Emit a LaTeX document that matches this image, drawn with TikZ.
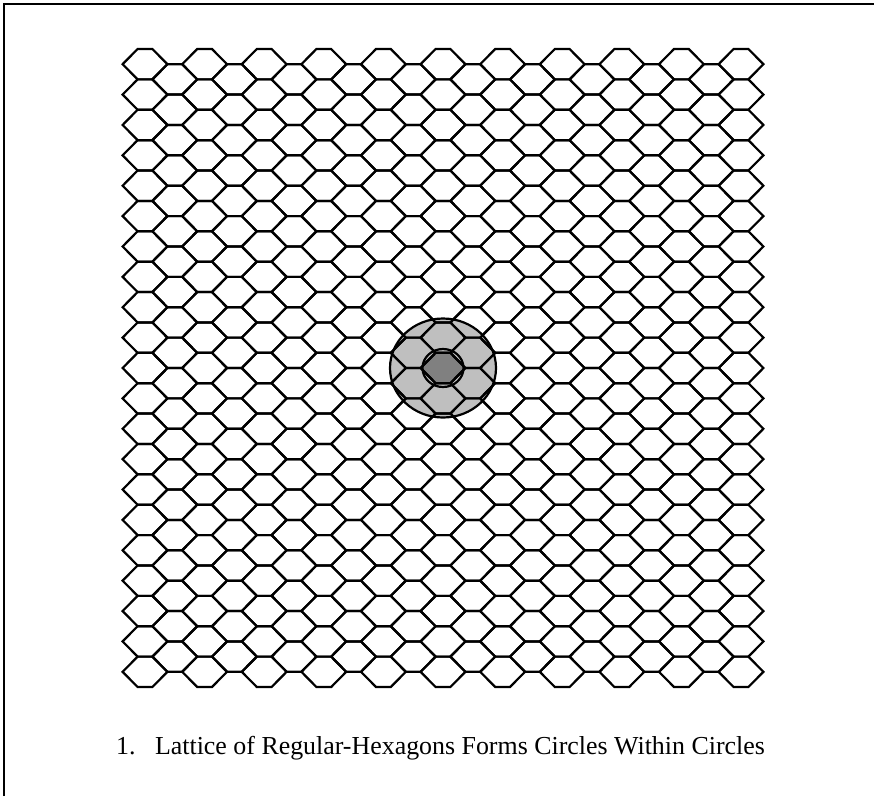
\documentclass[tikz,border=0pt]{standalone}
\usepackage{fontspec}
\setmainfont{Liberation Serif}
\begin{document}
\begin{tikzpicture}[x=1pt,y=-1pt,
  hexline/.style={line width=2.2pt, line join=miter},
  ringline/.style={line width=2.2pt},
  frameline/.style={line width=2pt}]
\useasboundingbox (0,0) rectangle (874,796);
\fill[white] (0,0) rectangle (874,796);
\def\hx{22.4}\def\he{7.4}\def\hh{15.19}
% shaded disks
\fill[black!25] (443,368) ellipse [x radius=53, y radius=49.5];
\fill[black!50] (443-\hx,368) -- (443-\he,368-\hh) -- (443+\he,368-\hh) -- (443+\hx,368) -- (443+\he,368+\hh) -- (443-\he,368+\hh) -- cycle;
% lattice
\foreach \i in {0,...,20}{
  \pgfmathsetmacro{\cx}{145+29.8*\i}
  \pgfmathtruncatemacro{\odd}{mod(\i,2)}
  \ifnum\odd=0
    \foreach \j in {0,...,20}{
      \pgfmathsetmacro{\cy}{64.2+30.38*\j}
      \draw[hexline] (\cx-\hx,\cy) -- (\cx-\he,\cy-\hh) -- (\cx+\he,\cy-\hh) -- (\cx+\hx,\cy) -- (\cx+\he,\cy+\hh) -- (\cx-\he,\cy+\hh) -- cycle;
    }
  \else
    \foreach \j in {0,...,19}{
      \pgfmathsetmacro{\cy}{79.39+30.38*\j}
      \draw[hexline] (\cx-\hx,\cy) -- (\cx-\he,\cy-\hh) -- (\cx+\he,\cy-\hh) -- (\cx+\hx,\cy) -- (\cx+\he,\cy+\hh) -- (\cx-\he,\cy+\hh) -- cycle;
    }
  \fi
}
% circle outlines
\draw[ringline] (443,368) ellipse [x radius=53, y radius=49.5];
\draw[ringline] (443,368) ellipse [x radius=20.5, y radius=19];
% frame
\draw[frameline] (4,796) -- (4,4) -- (874,4);
% caption
\node[anchor=base west, inner sep=0pt, font=\fontsize{25.9}{29}\selectfont] (cap) at (116,754) {1.\hspace{0.75em}Lattice of Regular-Hexagons Forms Circles Within Circles};
\end{tikzpicture}
\end{document}
